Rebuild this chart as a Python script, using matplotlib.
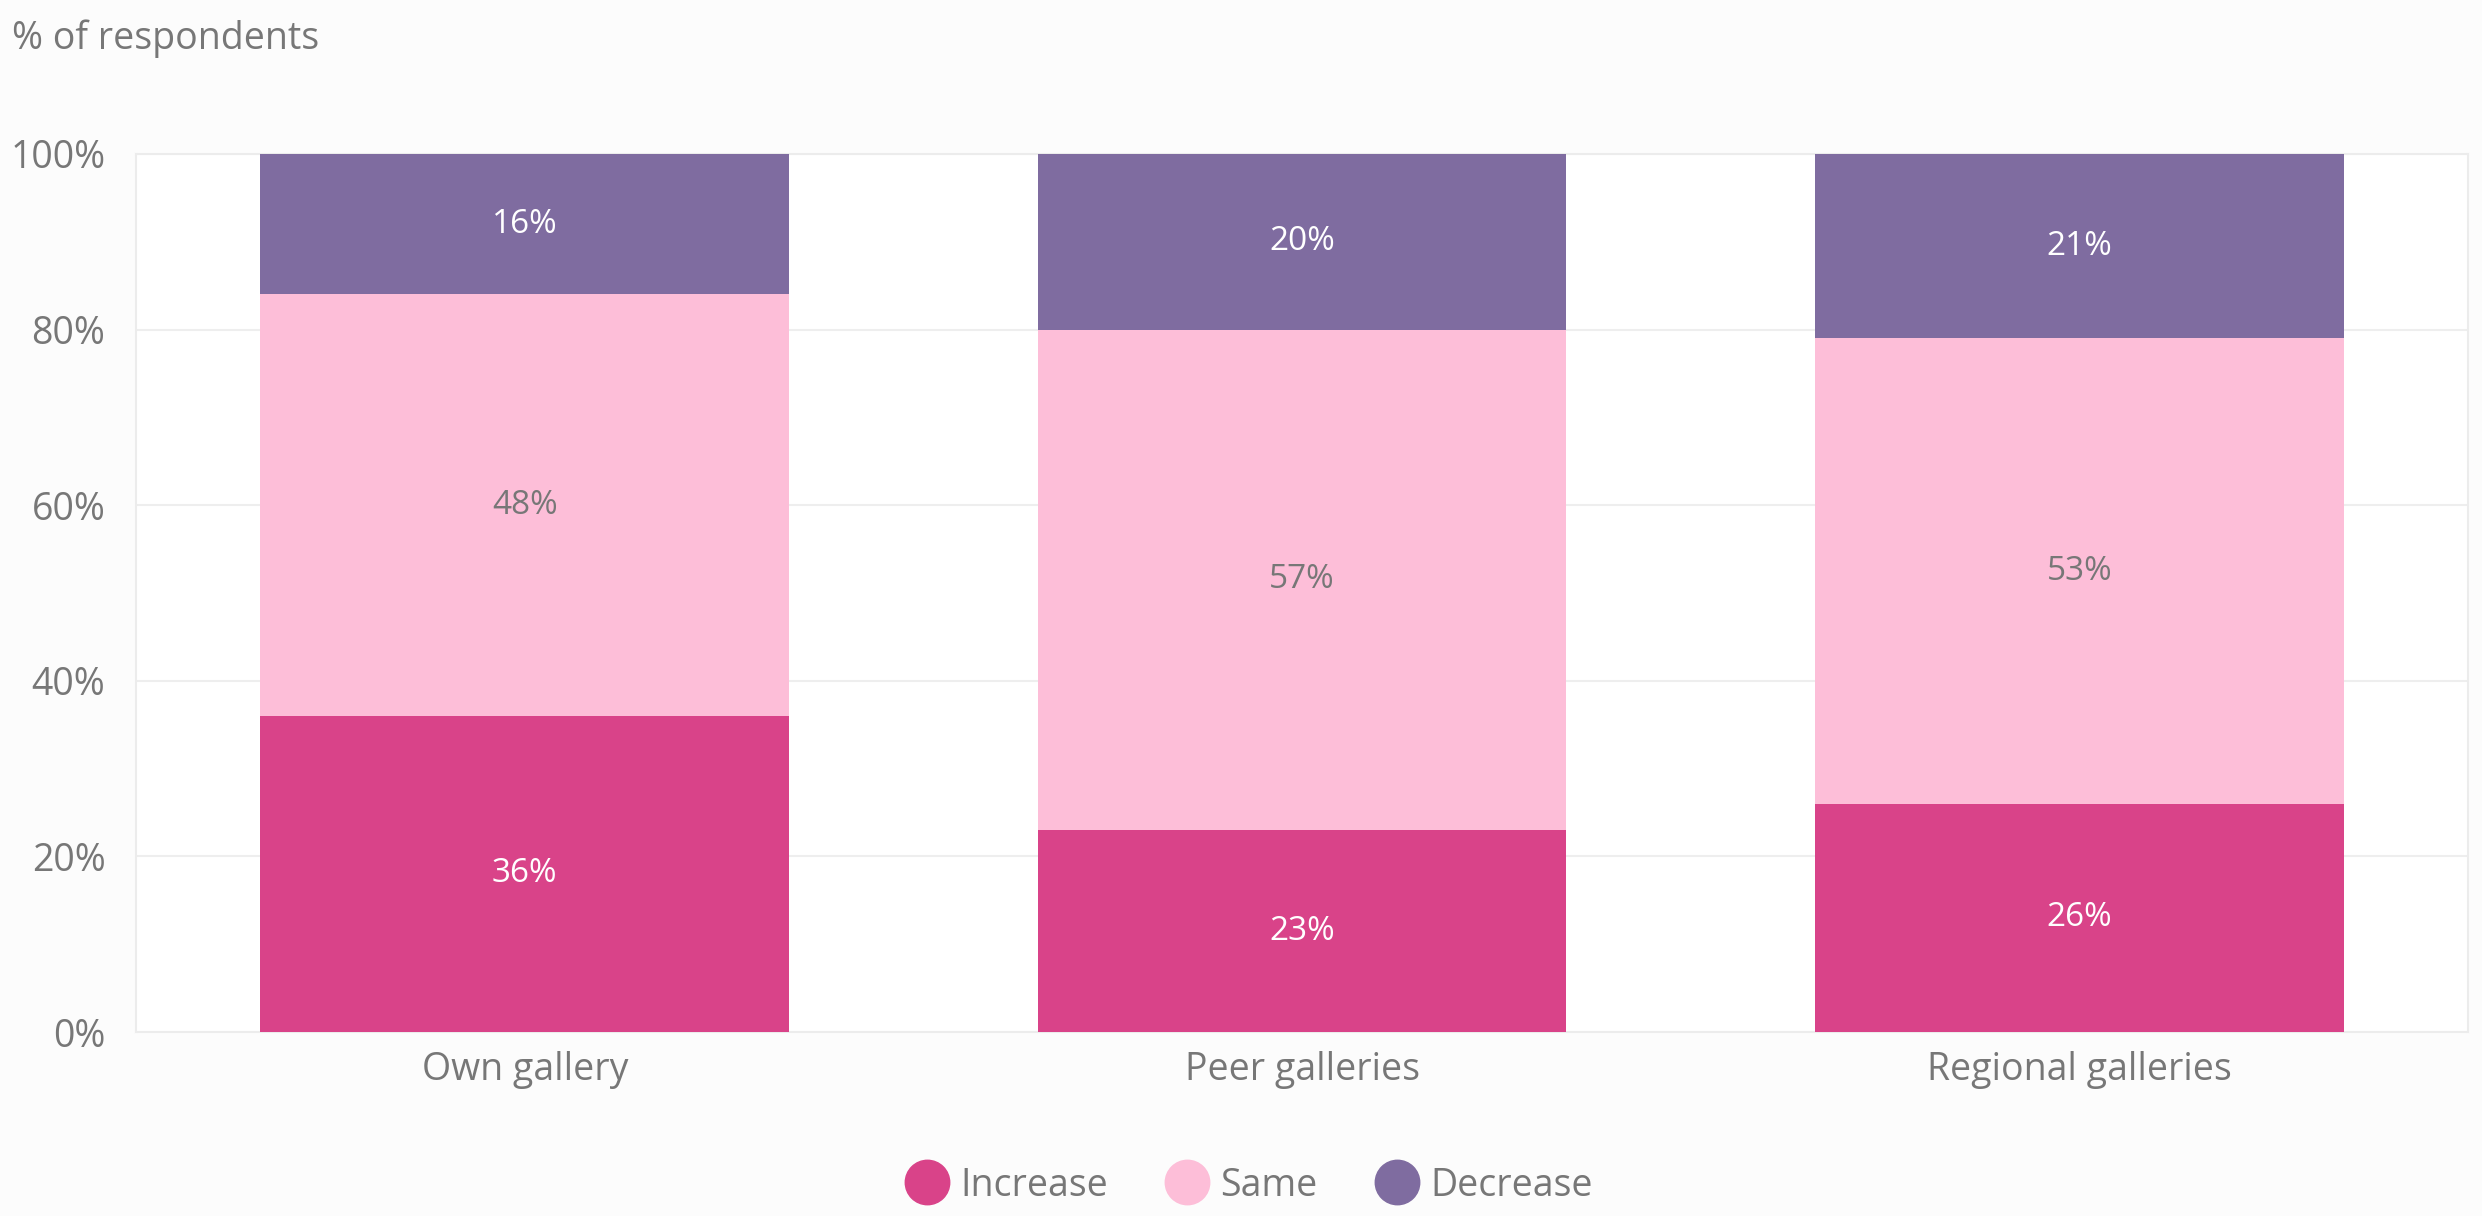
import matplotlib.pyplot as plt
import numpy as np

categories = ["Own gallery", "Peer galleries", "Regional galleries"]
increase = [36, 23, 26]
same = [48, 57, 53]
decrease = [16, 20, 21]
series_names = ["Increase", "Same", "Decrease"]
colors = ["#d94389", "#fdbed8", "#7f6ca0"]
label_colors = ["white", "#777777", "white"]

plt.rcParams['font.family'] = ['Open Sans', 'DejaVu Sans']

fig = plt.figure(figsize=(24.82, 12.16), dpi=100, facecolor="#fcfcfc")
ax = fig.add_axes([0.0548, 0.1513, 0.9396, 0.7221])
ax.set_facecolor("white")

x = np.arange(len(categories))
bottom = np.zeros(len(categories))
for vals, name, col, lcol in zip([increase, same, decrease], series_names, colors, label_colors):
    vals = np.array(vals)
    ax.bar(x, vals, bottom=bottom, width=0.68, color=col, label=name, zorder=3)
    for xi, b, v in zip(x, bottom, vals):
        ax.text(xi, b + v / 2, f"{v}%", ha="center", va="center", color=lcol, fontsize=24, zorder=4)
    bottom += vals

ax.set_xlim(-0.5, 2.5)
ax.set_ylim(0, 100)
ax.set_yticks(np.arange(0, 101, 20))
ax.set_yticklabels([f"{t}%" for t in range(0, 101, 20)])
ax.set_xticks(x)
ax.set_xticklabels(categories)
ax.tick_params(axis="both", length=0, labelsize=27, labelcolor="#777777")
ax.tick_params(axis="y", pad=22)
ax.tick_params(axis="x", pad=14)
ax.grid(axis="y", color="#eeeeee", linewidth=1.5, zorder=0)
for s in ax.spines.values():
    s.set_color("#ececec")
    s.set_linewidth(1.5)

fig.text(0.005, 0.968, "% of respondents", ha="left", va="center", fontsize=27, color="#777777")

handles = [plt.Line2D([], [], marker="o", linestyle="", markersize=32, color=c) for c in colors]
fig.legend(handles, series_names, loc="center", bbox_to_anchor=(0.5, 0.025), ncol=3, frameon=False,
           fontsize=27, labelcolor="#777777", handletextpad=-0.1, columnspacing=1.1)

fig.savefig("out.png", dpi=100, facecolor=fig.get_facecolor())
